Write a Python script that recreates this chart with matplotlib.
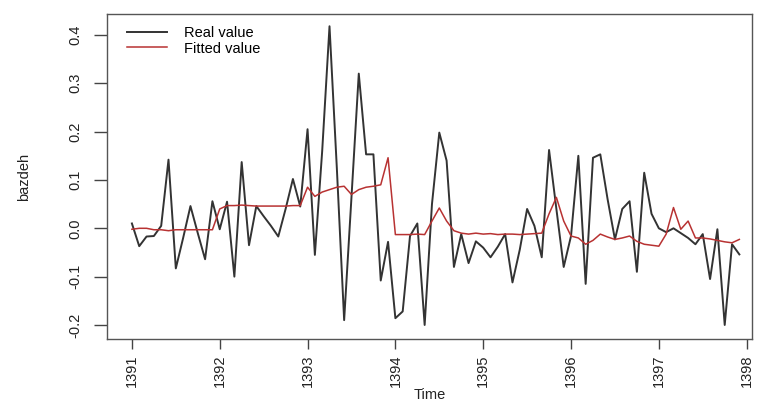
import numpy as np
import matplotlib
matplotlib.use('Agg')
import matplotlib.pyplot as plt

plt.rcParams['font.family'] = ['Liberation Sans', 'DejaVu Sans']

# monthly series, 1391 .. 1397 (12 per year)
start_year = 1391
real_value = [
    0.010, -0.037, -0.017, -0.016, 0.005, 0.142, -0.083, -0.020, 0.046, -0.010,
    -0.064, 0.056, -0.002, 0.055, -0.100, 0.137, -0.035, 0.046, 0.025, 0.005,
    -0.017, 0.040, 0.102, 0.045, 0.205, -0.055, 0.160, 0.418, 0.125, -0.190,
    0.064, 0.320, 0.153, 0.153, -0.108, -0.028, -0.186, -0.172, -0.016, 0.010,
    -0.200, 0.050, 0.198, 0.140, -0.080, -0.012, -0.072, -0.027, -0.040, -0.060,
    -0.038, -0.012, -0.112, -0.044, 0.040, 0.005, -0.060, 0.162, 0.040, -0.080,
    -0.016, 0.150, -0.115, 0.146, 0.153, 0.060, -0.023, 0.040, 0.056, -0.090,
    0.115, 0.030, 0.000, -0.008, 0.000, -0.010, -0.020, -0.033, -0.012, -0.105,
    -0.002, -0.200, -0.033, -0.054,
]
fitted_value = [
    -0.002, 0.000, 0.000, -0.003, -0.003, -0.005, -0.003, -0.003, -0.003, -0.003,
    -0.003, -0.003, 0.040, 0.047, 0.047, 0.048, 0.047, 0.046, 0.046, 0.046,
    0.046, 0.046, 0.047, 0.047, 0.085, 0.066, 0.075, 0.080, 0.085, 0.087,
    0.070, 0.080, 0.085, 0.087, 0.090, 0.146, -0.013, -0.013, -0.013, -0.012,
    -0.013, 0.015, 0.042, 0.015, -0.005, -0.010, -0.012, -0.010, -0.012, -0.011,
    -0.013, -0.012, -0.012, -0.013, -0.012, -0.011, -0.010, 0.030, 0.064, 0.015,
    -0.016, -0.020, -0.033, -0.025, -0.012, -0.018, -0.023, -0.020, -0.016, -0.027,
    -0.033, -0.035, -0.037, -0.012, 0.043, -0.002, 0.015, -0.020, -0.020, -0.022,
    -0.025, -0.028, -0.030, -0.023,
]
time = start_year + np.arange(len(real_value)) / 12.0
year_ticks = list(range(1391, 1399))
y_ticks = [-0.2, -0.1, 0.0, 0.1, 0.2, 0.3, 0.4]

fig = plt.figure(figsize=(7.58, 4.05), dpi=100)
ax = fig.add_axes([0.141, 0.163, 0.851, 0.802])

ax.plot(time, real_value, color='#333333', lw=1.4, label='Real value')
ax.plot(time, fitted_value, color='#b83232', lw=1.1, label='Fitted value')

ax.set_xlim(1390.715, 1398.06)
ax.set_ylim(-0.229, 0.443)
ax.set_xticks(year_ticks)
ax.set_xticklabels([str(y) for y in year_ticks], rotation=90)
ax.set_yticks(y_ticks)
ax.set_yticklabels(['-0.2', '-0.1', '0.0', '0.1', '0.2', '0.3', '0.4'],
                   rotation=90, va='center')
ax.tick_params(direction='out', width=1, color='#444444',
               labelsize=10.5, labelcolor='#222222')
ax.tick_params(axis='y', length=9.5, pad=8)
ax.tick_params(axis='x', length=7, pad=4)
for s in ax.spines.values():
    s.set_color('#555555')
    s.set_linewidth(1)

ax.set_xlabel('Time', fontsize=10.5, color='#222222', labelpad=1)
ax.set_ylabel('bazdeh', fontsize=10.5, color='#222222')
ax.yaxis.set_label_coords(-0.118, 0.5)

ax.legend(loc='upper left', frameon=False, fontsize=10.5, handlelength=2.75,
          handletextpad=1.15, borderaxespad=0.2, labelspacing=0.12,
          bbox_to_anchor=(0.0175, 0.991))

fig.savefig('out.png', dpi=100)
